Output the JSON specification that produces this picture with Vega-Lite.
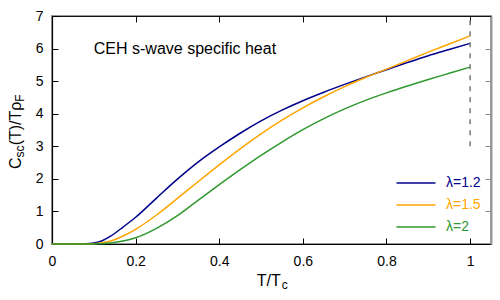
{
  "$schema": "https://vega.github.io/schema/vega-lite/v6.json",
  "width": 439,
  "height": 228,
  "autosize": "none",
  "padding": {"left": 52, "top": 16, "right": 9, "bottom": 56},
  "background": "white",
  "config": {"view": {"stroke": "#999999", "strokeWidth": 2}, "font": "Liberation Sans"},
  "layer": [
    {
      "data": {
        "values": [
          {"t": 0, "c": 0, "s": "λ=1.2"}, {"t": 0.05, "c": 0, "s": "λ=1.2"}, {"t": 0.08, "c": 0.005, "s": "λ=1.2"}, {"t": 0.1, "c": 0.03, "s": "λ=1.2"}, {"t": 0.12, "c": 0.1, "s": "λ=1.2"}, {"t": 0.14, "c": 0.24, "s": "λ=1.2"}, {"t": 0.17, "c": 0.52, "s": "λ=1.2"}, {"t": 0.2, "c": 0.82, "s": "λ=1.2"}, {"t": 0.25, "c": 1.41, "s": "λ=1.2"}, {"t": 0.3, "c": 1.99, "s": "λ=1.2"}, {"t": 0.35, "c": 2.52, "s": "λ=1.2"}, {"t": 0.4, "c": 2.98, "s": "λ=1.2"}, {"t": 0.45, "c": 3.4, "s": "λ=1.2"}, {"t": 0.5, "c": 3.78, "s": "λ=1.2"}, {"t": 0.55, "c": 4.11, "s": "λ=1.2"}, {"t": 0.6, "c": 4.4, "s": "λ=1.2"}, {"t": 0.65, "c": 4.66, "s": "λ=1.2"}, {"t": 0.7, "c": 4.9, "s": "λ=1.2"}, {"t": 0.75, "c": 5.13, "s": "λ=1.2"}, {"t": 0.8, "c": 5.35, "s": "λ=1.2"}, {"t": 0.85, "c": 5.57, "s": "λ=1.2"}, {"t": 0.9, "c": 5.78, "s": "λ=1.2"}, {"t": 0.95, "c": 5.97, "s": "λ=1.2"}, {"t": 1.0, "c": 6.16, "s": "λ=1.2"},
          {"t": 0, "c": 0, "s": "λ=1.5"}, {"t": 0.05, "c": 0, "s": "λ=1.5"}, {"t": 0.08, "c": 0, "s": "λ=1.5"}, {"t": 0.1, "c": 0.01, "s": "λ=1.5"}, {"t": 0.12, "c": 0.035, "s": "λ=1.5"}, {"t": 0.14, "c": 0.09, "s": "λ=1.5"}, {"t": 0.17, "c": 0.245, "s": "λ=1.5"}, {"t": 0.2, "c": 0.45, "s": "λ=1.5"}, {"t": 0.25, "c": 0.89, "s": "λ=1.5"}, {"t": 0.3, "c": 1.4, "s": "λ=1.5"}, {"t": 0.35, "c": 1.92, "s": "λ=1.5"}, {"t": 0.4, "c": 2.43, "s": "λ=1.5"}, {"t": 0.45, "c": 2.92, "s": "λ=1.5"}, {"t": 0.5, "c": 3.38, "s": "λ=1.5"}, {"t": 0.55, "c": 3.8, "s": "λ=1.5"}, {"t": 0.6, "c": 4.18, "s": "λ=1.5"}, {"t": 0.65, "c": 4.52, "s": "λ=1.5"}, {"t": 0.7, "c": 4.83, "s": "λ=1.5"}, {"t": 0.75, "c": 5.11, "s": "λ=1.5"}, {"t": 0.8, "c": 5.37, "s": "λ=1.5"}, {"t": 0.85, "c": 5.63, "s": "λ=1.5"}, {"t": 0.9, "c": 5.89, "s": "λ=1.5"}, {"t": 0.95, "c": 6.14, "s": "λ=1.5"}, {"t": 1.0, "c": 6.39, "s": "λ=1.5"},
          {"t": 0, "c": 0, "s": "λ=2"}, {"t": 0.05, "c": 0, "s": "λ=2"}, {"t": 0.08, "c": 0, "s": "λ=2"}, {"t": 0.1, "c": 0.003, "s": "λ=2"}, {"t": 0.12, "c": 0.01, "s": "λ=2"}, {"t": 0.14, "c": 0.03, "s": "λ=2"}, {"t": 0.17, "c": 0.09, "s": "λ=2"}, {"t": 0.2, "c": 0.19, "s": "λ=2"}, {"t": 0.25, "c": 0.48, "s": "λ=2"}, {"t": 0.3, "c": 0.87, "s": "λ=2"}, {"t": 0.35, "c": 1.35, "s": "λ=2"}, {"t": 0.4, "c": 1.82, "s": "λ=2"}, {"t": 0.45, "c": 2.28, "s": "λ=2"}, {"t": 0.5, "c": 2.72, "s": "λ=2"}, {"t": 0.55, "c": 3.13, "s": "λ=2"}, {"t": 0.6, "c": 3.51, "s": "λ=2"}, {"t": 0.65, "c": 3.85, "s": "λ=2"}, {"t": 0.7, "c": 4.15, "s": "λ=2"}, {"t": 0.75, "c": 4.41, "s": "λ=2"}, {"t": 0.8, "c": 4.64, "s": "λ=2"}, {"t": 0.85, "c": 4.85, "s": "λ=2"}, {"t": 0.9, "c": 5.05, "s": "λ=2"}, {"t": 0.95, "c": 5.24, "s": "λ=2"}, {"t": 1.0, "c": 5.43, "s": "λ=2"}
        ]
      },
      "mark": {"type": "line", "strokeWidth": 1.5, "interpolate": "monotone"},
      "encoding": {
        "x": {
          "field": "t", "type": "quantitative",
          "scale": {"domain": [0, 1.05], "nice": false, "zero": false},
          "axis": {"orient": "bottom", "values": [0, 0.2, 0.4, 0.6, 0.8, 1], "format": "~g", "title": null, "grid": false,
                   "ticks": true, "tickSize": -6, "tickWidth": 1, "tickColor": "black", "domainColor": "black", "domainWidth": 1.2, "labelColor": "black",
                   "labelFontSize": 14, "labelFont": "Liberation Sans", "labelPadding": 16, "labelFlush": false}
        },
        "y": {
          "field": "c", "type": "quantitative",
          "scale": {"domain": [0, 7], "nice": false},
          "axis": {"orient": "left", "values": [0, 1, 2, 3, 4, 5, 6, 7], "title": null, "grid": false,
                   "ticks": true, "tickSize": -6, "tickWidth": 1, "tickColor": "black", "domainColor": "black", "domainWidth": 1.2, "labelColor": "black",
                   "labelFontSize": 14, "labelFont": "Liberation Sans", "labelPadding": 15}
        },
        "color": {
          "field": "s", "type": "nominal",
          "scale": {"domain": ["λ=1.2", "λ=1.5", "λ=2"], "range": ["#00008b", "#ffa500", "#2e992e"]},
          "legend": {
            "orient": "none", "legendX": 357, "legendY": 160, "title": null, "padding": 0,
            "symbolType": "M-4,0H4", "symbolSize": 95, "symbolStrokeWidth": 1.5,
            "labelFontSize": 14, "labelFont": "Liberation Sans", "labelOffset": 23, "rowPadding": 8,
            "encode": {"labels": {"update": {"fill": {"scale": "color", "field": "value"}}}}
          }
        }
      }
    },
    {
      "data": {"values": [{}]},
      "mark": {"type": "rule", "color": "#777777", "strokeWidth": 1.5, "strokeDash": [5, 6]},
      "encoding": {
        "x": {
          "datum": 1, "type": "quantitative",
          "axis": {"orient": "top", "values": [0.2, 0.4, 0.6, 0.8, 1], "labels": true, "labelExpr": "''", "title": null, "grid": false,
                   "ticks": true, "tickSize": -6, "tickWidth": 1, "tickColor": "#111111", "domain": true, "domainColor": "#111111", "domainWidth": 1.2}
        },
        "y": {
          "datum": 3, "type": "quantitative",
          "axis": {"orient": "right", "values": [1, 2, 3, 4, 5, 6], "labels": true, "labelExpr": "''", "title": null, "grid": false,
                   "ticks": true, "tickSize": -6, "tickWidth": 1, "tickColor": "#888888", "domain": true, "domainColor": "#999999", "domainWidth": 2}
        },
        "y2": {"datum": 7}
      }
    },
    {
      "data": {"values": [{}]},
      "mark": {"type": "text", "align": "left", "baseline": "alphabetic", "fontSize": 16, "font": "Liberation Sans", "color": "black"},
      "encoding": {"x": {"datum": 0.1, "axis": null}, "y": {"datum": 5.82, "axis": null}, "text": {"value": "CEH s-wave specific heat"}}
    },
    {
      "data": {"values": [{}]},
      "mark": {"type": "text", "align": "left", "baseline": "alphabetic", "fontSize": 16, "font": "Liberation Sans", "color": "black"},
      "encoding": {"x": {"datum": 0.4895, "axis": null}, "y": {"datum": -1.288, "axis": null}, "text": {"value": "T/T"}}
    },
    {
      "data": {"values": [{}]},
      "mark": {"type": "text", "align": "left", "baseline": "alphabetic", "fontSize": 12, "font": "Liberation Sans", "color": "black"},
      "encoding": {"x": {"datum": 0.5496, "axis": null}, "y": {"datum": -1.38, "axis": null}, "text": {"value": "c"}}
    },
    {
      "data": {"values": [{}]},
      "mark": {"type": "text", "align": "left", "baseline": "alphabetic", "angle": 270, "fontSize": 16, "font": "Liberation Sans", "color": "black"},
      "encoding": {"x": {"datum": -0.0751, "axis": null}, "y": {"datum": 2.3, "axis": null}, "text": {"value": "C"}}
    },
    {
      "data": {"values": [{}]},
      "mark": {"type": "text", "align": "left", "baseline": "alphabetic", "angle": 270, "fontSize": 12, "font": "Liberation Sans", "color": "black"},
      "encoding": {"x": {"datum": -0.0679, "axis": null}, "y": {"datum": 2.656, "axis": null}, "text": {"value": "sc"}}
    },
    {
      "data": {"values": [{}]},
      "mark": {"type": "text", "align": "left", "baseline": "alphabetic", "angle": 270, "fontSize": 16, "font": "Liberation Sans", "color": "black"},
      "encoding": {"x": {"datum": -0.0751, "axis": null}, "y": {"datum": 3.03, "axis": null}, "text": {"value": "(T)/Tρ"}}
    },
    {
      "data": {"values": [{}]},
      "mark": {"type": "text", "align": "left", "baseline": "alphabetic", "angle": 270, "fontSize": 12, "font": "Liberation Sans", "color": "black"},
      "encoding": {"x": {"datum": -0.0679, "axis": null}, "y": {"datum": 4.37, "axis": null}, "text": {"value": "F"}}
    }
  ],
  "resolve": {"axis": {"x": "independent", "y": "independent"}}
}
